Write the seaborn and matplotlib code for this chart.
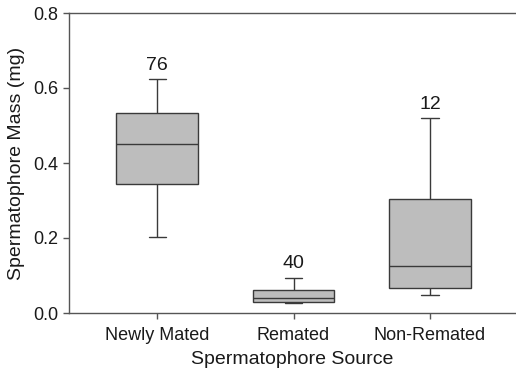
import matplotlib
matplotlib.use("Agg")
import matplotlib.pyplot as plt
import seaborn as sns
import pandas as pd

# Five-number summaries (mg)
categories = ["Newly Mated", "Remated", "Non-Remated"]
mins = [0.202, 0.0275, 0.047]
q1s = [0.345, 0.030, 0.0675]
medians = [0.450, 0.040, 0.1245]
q3s = [0.5325, 0.061, 0.305]
maxs = [0.623, 0.094, 0.519]
n_labels = ["76", "40", "12"]

rows = []
for c, a, b, m, d, e in zip(categories, mins, q1s, medians, q3s, maxs):
    for v in (a, b, m, d, e):
        rows.append({"Source": c, "Mass": v})
df = pd.DataFrame(rows)

sns.set_theme(style="ticks")
plt.rcParams["font.family"] = ["Liberation Sans", "DejaVu Sans"]

fig = plt.figure(figsize=(5.16, 3.74), dpi=100)
ax = fig.add_axes([69 / 516, 61 / 374, 1 - 69 / 516, 300 / 374])

edge = "#3a3a3a"
sns.boxplot(data=df, x="Source", y="Mass", order=categories, ax=ax,
            color="#bdbdbd", width=0.6, whis=(0, 100), linewidth=1.0,
            linecolor=edge, saturation=1, showfliers=False,
            capwidths=0.125)

for i, (lab, top) in enumerate(zip(n_labels, maxs)):
    ax.text(i, top + 0.014, lab, ha="center", va="bottom", fontsize=14, color="#1a1a1a")

ax.set_xlim(-0.645, 2.63)
ax.set_ylim(0, 0.8)
ax.set_yticks([0.0, 0.2, 0.4, 0.6, 0.8])
ax.set_yticklabels(["0.0", "0.2", "0.4", "0.6", "0.8"])
ax.set_xlabel("Spermatophore Source", fontsize=14, color="#1a1a1a", labelpad=5)
ax.set_ylabel("Spermatophore Mass (mg)", fontsize=14, color="#1a1a1a", labelpad=6)
ax.tick_params(axis="both", labelsize=13, colors="#555555", labelcolor="#1a1a1a",
               length=4, width=1)
ax.tick_params(axis="x", pad=6)

for side in ("left", "bottom", "top"):
    ax.spines[side].set_visible(True)
    ax.spines[side].set_color("#555555")
    ax.spines[side].set_linewidth(1.0)
ax.spines["right"].set_visible(False)

fig.savefig("out.png", dpi=100)
